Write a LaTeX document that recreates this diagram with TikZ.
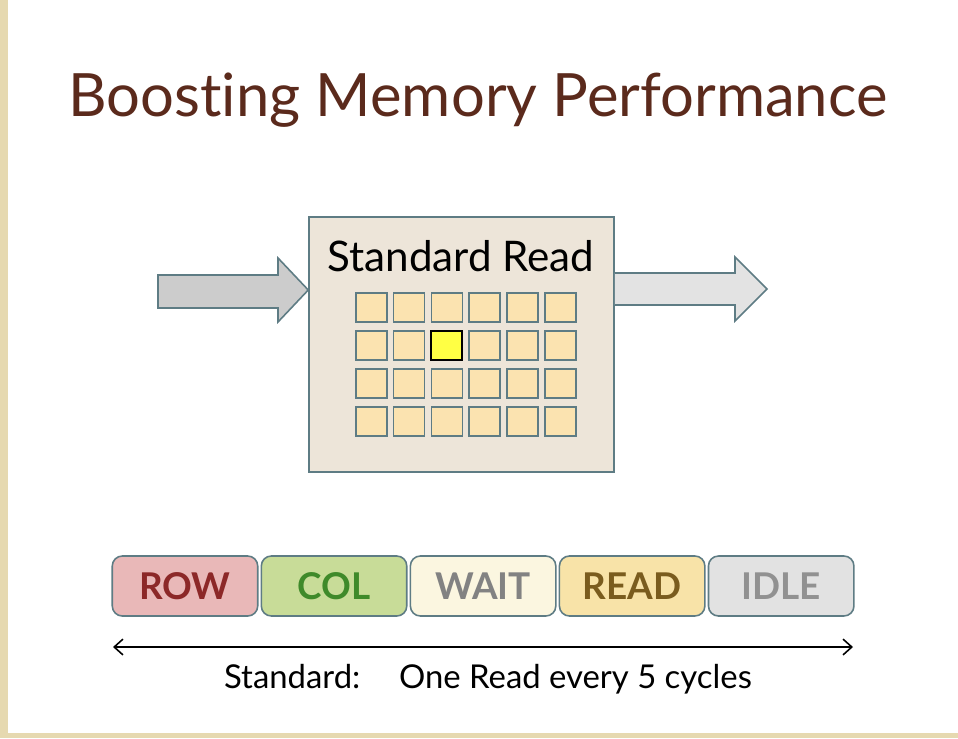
\documentclass[tikz,border=0pt]{standalone}
\usepackage{fontspec}
\setmainfont[Ligatures={NoCommon,NoRare}]{Lato}
\usetikzlibrary{positioning,arrows.meta}
\definecolor{sidetan}{HTML}{E6D9B0}
\definecolor{titlebrown}{HTML}{5B2A1C}
\definecolor{edgeteal}{HTML}{5E7C84}
\definecolor{boxfill}{HTML}{EDE5D9}
\definecolor{cellfill}{HTML}{FBE3B0}
\definecolor{cellhi}{HTML}{FFFF44}
\definecolor{inarrowfill}{HTML}{CCCCCC}
\definecolor{outarrowfill}{HTML}{E3E3E3}
\definecolor{rowfill}{HTML}{E9B8B8}
\definecolor{rowtext}{HTML}{8C2828}
\definecolor{colfill}{HTML}{C8DC98}
\definecolor{coltext}{HTML}{3F8A2A}
\definecolor{waitfill}{HTML}{FBF6E0}
\definecolor{waittext}{HTML}{828282}
\definecolor{readfill}{HTML}{F8E3A8}
\definecolor{readtext}{HTML}{7A5C1E}
\definecolor{idlefill}{HTML}{E2E2E2}
\definecolor{idletext}{HTML}{919191}
\tikzset{
  title/.style={font=\fontsize{34}{40}\selectfont, text=titlebrown},
  membox/.style={draw=edgeteal, line width=0.9pt, fill=boxfill,
    minimum width=6.1cm, minimum height=5.1cm, inner sep=0pt},
  cell/.style={draw=edgeteal, line width=0.9pt, fill=cellfill,
    minimum width=0.62cm, minimum height=0.58cm, inner sep=0pt},
  hicell/.style={cell, draw=black, line width=1.2pt, fill=cellhi},
  blockarrow/.style={draw=edgeteal, line width=0.9pt, line join=miter},
  phase/.style={draw=edgeteal, line width=0.9pt, rounded corners=0.2cm,
    minimum width=2.91cm, minimum height=1.2cm, inner sep=0pt,
    font=\fontsize{21}{24}\selectfont\bfseries},
}
\begin{document}
\begin{tikzpicture}[x=0.02cm,y=-0.02cm]
\useasboundingbox (0,0) rectangle (958,738);
\fill[white] (0,0) rectangle (958,738);
\fill[sidetan] (0,0) rectangle (8,738);
\fill[sidetan] (0,733) rectangle (958,738);
% title
\node[title] (title) at (478,100) {Boosting Memory Performance};
% memory bank
\node[membox] (bank) at (461.5,344.5) {};
\node[font=\fontsize{24}{28}\selectfont] (banklabel) at (461,256) {Standard Read};
\foreach \r in {1,...,4}
  \foreach \c in {1,...,6}
    \node[cell] (c-\r-\c) at ({333.5+37.8*\c},{269.5+38*\r}) {};
\node[hicell] at (c-2-3) {};
% in and out arrows
\draw[blockarrow, fill=inarrowfill] (158,275) -- (278,275) -- (278,258) -- (bank.west |- 0,290)
  -- (278,322) -- (278,308) -- (158,308) -- cycle;
\draw[blockarrow, fill=outarrowfill] (bank.east |- 0,273) -- (735,273) -- (735,257) -- (767,289)
  -- (735,321) -- (735,305) -- (bank.east |- 0,305);
% timeline
\node[phase, fill=rowfill, text=rowtext] (row) at (185,586) {ROW};
\node[phase, fill=colfill, text=coltext, right=0.04cm of row] (col) {COL};
\node[phase, fill=waitfill, text=waittext, right=0.04cm of col] (wait) {WAIT};
\node[phase, fill=readfill, text=readtext, right=0.04cm of wait] (read) {READ};
\node[phase, fill=idlefill, text=idletext, right=0.04cm of read] (idle) {IDLE};
\coordinate (tl) at (113,647);
\coordinate (tr) at (853,647);
\draw[{Straight Barb[length=5pt,width=9pt]}-{Straight Barb[length=5pt,width=9pt]}, line width=0.9pt] (tl) -- (tr);
\node[font=\fontsize{18.7}{22}\selectfont] (note) at (488,679) {Standard:\hspace{0.55cm} One Read every 5 cycles};
\end{tikzpicture}
\end{document}
